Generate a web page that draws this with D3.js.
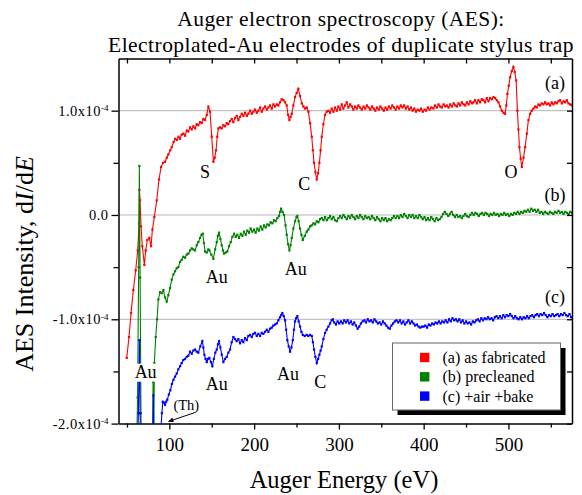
<!DOCTYPE html>
<html>
<head>
<meta charset="utf-8">
<script src="https://cdn.jsdelivr.net/npm/d3@7"></script>
<style>
  body { margin: 0; background: #fff; }
  svg { display: block; font-family: "Liberation Serif", "DejaVu Serif", serif; }
</style>
</head>
<body>
<svg id="chart"></svg>
<script>
// AES spectra, values in units of 1e-4 (dI/dE), energy in eV
const asFabricated = [
  [49.7,-1.37],[52.4,-1.17],[54.8,-0.94],[57.5,-0.72],[60.3,-0.53],[62.7,-0.34],[64.2,-0.08],[64.6,0.24],
  [65.4,0.14],[66.6,-0.11],[68.1,-0.30],[70.5,-0.48],[72.1,-0.34],[74.0,-0.24],[76.4,-0.22],[78.4,-0.30],
  [80.0,-0.14],[82.3,-0.02],[85.1,0.14],[87.8,0.34],[90.2,0.46],[92.5,0.50],[94.9,0.51],[97,0.55],
  [98.8,0.58],[101,0.62],[102.8,0.65],[105,0.70],[106.7,0.73],[109,0.72],[110.8,0.75],[112.6,0.73],
  [114.5,0.77],[116.5,0.78],[118.5,0.76],[120.5,0.81],[122.4,0.80],[124.5,0.84],[126.4,0.82],[128.3,0.85],
  [130.3,0.83],[132.2,0.87],[134.2,0.86],[136.2,0.89],[138.1,0.88],[140.1,0.92],[142.1,0.91],[144.1,0.96],
  [146.0,1.04],[148.0,0.99],[150.0,0.75],[151.9,0.51],[153.5,0.55],[155.1,0.62],[156.5,0.75],[157.8,0.83],
  [159.8,0.84],[161.7,0.83],[163.7,0.86],[165.7,0.85],[167.7,0.88],[169.6,0.87],[171.6,0.90],[173.6,0.92],
  [175.5,0.89],[177.5,0.93],[179.5,0.95],[181.4,0.91],[183.4,0.94],[185.4,0.97],[187.3,0.95],[189.3,0.98],
  [191.3,0.95],[193.2,0.97],[195.2,1.00],[197.2,0.97],[199.1,0.99],[201.1,1.01],[203.1,0.98],[205.0,1.00],
  [207.0,1.03],[209.0,0.99],[210.9,1.02],[212.9,1.04],[214.9,1.01],[216.8,1.03],[218.8,1.05],[220.8,1.02],
  [222.7,1.06],[224.7,1.04],[226.7,1.06],[228.6,1.05],[230.6,1.08],[232.5,1.11],[234.5,1.10],[236.5,1.08],
  [238.5,1.05],[240.0,0.96],[241.6,0.91],[243.0,0.94],[244.4,0.97],[246.3,1.05],[248.3,1.13],[250.2,1.17],
  [252.2,1.21],[254.2,1.14],[256.2,1.07],[258.1,1.04],[260.1,1.02],[262.1,1.03],[264.0,0.99],[266.0,0.88],
  [268.0,0.75],[269.3,0.62],[270.7,0.50],[272.3,0.41],[273.9,0.34],[275.5,0.40],[277.0,0.50],[278.4,0.62],
  [279.8,0.75],[281.7,0.87],[283.7,0.96],[285.6,0.99],[287.6,1.00],[289.6,0.98],[291.5,1.02],[293.5,0.99],
  [295.5,1.03],[297.5,1.00],[299.4,1.04],[301.4,1.01],[303.4,1.06],[305.3,1.02],[307.3,1.05],[309.3,1.08],
  [311.2,1.03],[313.2,1.06],[315.2,1.04],[317.1,1.01],[319.1,1.04],[321.1,1.02],[323,1.05],[325,1.03],
  [327,1.01],[329,1.04],[331,1.02],[333,1.05],[335,1.03],[337,1.01],[339,1.04],[341,1.02],
  [343,1.00],[345,1.03],[347,1.01],[349,1.04],[351,1.02],[353,1.00],[355,1.03],[357,1.01],
  [359,1.04],[361,1.02],[363,1.05],[365,1.03],[367,1.01],[369,1.04],[371,1.02],[373,1.05],
  [375,1.03],[377,1.05],[379,1.02],[381,1.04],[383,1.01],[385,1.03],[387,1.00],[389,1.02],
  [391,0.99],[393,1.01],[395,1.00],[397,1.02],[399,0.99],[401,1.01],[403,1.00],[405,1.03],
  [407,1.01],[409,1.03],[411.5,1.02],[413.5,1.05],[415.5,1.03],[417.5,1.06],[419.5,1.04],[421.5,1.03],
  [423.5,1.06],[425.5,1.04],[427.3,1.05],[429.3,1.03],[431.3,1.06],[433.3,1.04],[435.3,1.07],[437.3,1.05],
  [439.2,1.04],[441.1,1.07],[443.0,1.05],[445,1.08],[447,1.06],[449,1.05],[451,1.08],[453,1.06],
  [455,1.09],[457,1.07],[458.7,1.08],[460.7,1.10],[462.7,1.07],[464.6,1.10],[466.6,1.08],[468.5,1.11],
  [470.5,1.10],[472.5,1.08],[474.4,1.12],[476.4,1.09],[478.4,1.12],[480.4,1.11],[482.4,1.13],[484.3,1.12],
  [486.3,1.10],[488.3,1.08],[490.2,1.04],[492.2,1.00],[494.2,0.98],[496.1,0.97],[497.5,1.05],[498.8,1.16],
  [500.4,1.24],[502.0,1.32],[504.0,1.38],[505.9,1.42],[507.5,1.37],[509.1,1.29],[510.6,1.00],[511.8,0.82],
  [513.0,0.65],[514.4,0.54],[515.8,0.46],[517.8,0.55],[519.7,0.65],[521.7,0.78],[523.6,0.91],[525.6,0.97],
  [527.5,1.00],[529.5,1.02],[531.5,1.04],[533.4,1.03],[535.4,1.06],[537.4,1.05],[539.3,1.07],[541.3,1.06],
  [543.3,1.08],[545.2,1.06],[547.2,1.07],[549.2,1.05],[551.1,1.08],[553.1,1.06],[555.1,1.08],[557.1,1.07],
  [559.0,1.09],[561.0,1.10],[563.0,1.07],[564.9,1.09],[566.9,1.08],[568.9,1.10],[570.8,1.07],[572.8,1.06],
  [575,1.05]
];

const precleaned = [
  [61.0,-2.4],[62.5,-1.75],[63.8,-0.5],[64.6,0.47],[65.5,-0.6],[66.5,-1.9],[67.5,-2.4],[79.8,-2.4],
  [80.8,-1.6],[81.5,-2.4],[82.3,-1.42],[83.9,-1.17],[85.5,-1.00],[87.0,-0.81],[89.0,-0.74],[91.0,-0.75],
  [93.0,-0.72],[94.9,-0.79],[96.9,-0.83],[98.8,-0.77],[100.8,-0.70],[102.8,-0.62],[104.8,-0.57],[106.7,-0.54],
  [108.7,-0.51],[110.6,-0.50],[112.6,-0.45],[114.5,-0.43],[116.5,-0.40],[118.5,-0.41],[120.5,-0.38],[122.4,-0.37],
  [124.4,-0.34],[126.4,-0.32],[128.3,-0.33],[130.3,-0.34],[132.3,-0.29],[134.2,-0.26],[136.2,-0.22],[138.0,-0.19],
  [139.4,-0.18],[140.8,-0.27],[142.1,-0.35],[144.1,-0.36],[146.0,-0.33],[147.2,-0.34],[149.5,-0.38],[151.9,-0.42],
  [154.0,-0.33],[155.9,-0.26],[157.2,-0.20],[158.6,-0.17],[160.2,-0.23],[161.8,-0.29],[163.2,-0.34],[164.5,-0.37],
  [166.5,-0.36],[168.4,-0.35],[170.4,-0.30],[172.4,-0.26],[174.3,-0.21],[176.3,-0.18],[178.3,-0.21],[180.2,-0.19],
  [182.2,-0.22],[184.2,-0.18],[186.1,-0.20],[188.1,-0.16],[190.1,-0.19],[192.0,-0.15],[194.0,-0.17],[195.9,-0.13],
  [197.9,-0.16],[199.9,-0.14],[201.8,-0.17],[203.8,-0.13],[205.8,-0.15],[207.7,-0.11],[209.7,-0.14],[211.7,-0.10],
  [213.6,-0.12],[215.6,-0.09],[217.6,-0.10],[219.5,-0.07],[221.5,-0.08],[223.5,-0.05],[225.4,-0.06],[227.4,-0.03],
  [229.4,-0.01],[230.6,0.03],[231.8,0.06],[233.5,0.03],[235.3,0.00],[237.0,-0.10],[238.5,-0.19],[240.0,-0.28],
  [241.6,-0.34],[243.0,-0.29],[244.4,-0.22],[246.3,-0.13],[248.3,-0.06],[250.0,-0.02],[251.0,-0.01],[252.5,-0.06],
  [254.2,-0.13],[255.8,-0.19],[257.4,-0.24],[259.7,-0.20],[262.1,-0.16],[264.0,-0.14],[266.0,-0.11],[268.0,-0.10],
  [270.0,-0.08],[271.9,-0.09],[273.9,-0.06],[275.9,-0.07],[277.8,-0.04],[279.8,-0.03],[281.8,-0.05],[283.7,-0.02],
  [285.7,-0.05],[287.7,-0.03],[289.6,-0.01],[291.6,-0.04],[293.6,-0.02],[295.5,-0.05],[297.5,-0.06],[299.5,-0.03],
  [301.4,-0.01],[303.4,-0.03],[305.4,0.00],[307.3,-0.02],[309.3,-0.04],[311.3,-0.01],[313.2,-0.03],[315.2,0.00],
  [317.2,-0.02],[319.1,-0.04],[321.1,-0.01],[323,-0.03],[325,0.00],[327,-0.02],[329,-0.04],[331,-0.01],
  [333,-0.03],[335,-0.02],[337,-0.04],[339,-0.01],[341,-0.03],[343,-0.05],[345,-0.02],[347,-0.04],
  [349,-0.06],[351,-0.03],[353,-0.05],[355,-0.03],[357,-0.06],[359,-0.04],[361,-0.05],[363,-0.03],
  [365,-0.01],[367,-0.03],[369,-0.01],[371,-0.03],[373,0.00],[375,-0.02],[377,0.01],[379,-0.01],
  [381,-0.03],[383,0.00],[385,-0.02],[387,0.00],[389,-0.03],[391,-0.01],[393,-0.03],[395,0.00],
  [397,-0.02],[399,-0.04],[401,-0.02],[403,-0.05],[405,-0.03],[407,-0.05],[409,-0.02],[411,-0.04],
  [413,-0.06],[415,-0.03],[417,-0.05],[419,-0.04],[421,-0.02],[423,0.01],[425,0.03],[427,0.01],
  [429,-0.01],[431,0.01],[433,0.03],[435,0.00],[437,-0.02],[439,0.00],[441,-0.02],[443,-0.01],
  [445,-0.03],[447,-0.01],[449,0.01],[451,-0.01],[453,-0.02],[455,0.00],[457,0.02],[459,0.00],
  [461,0.02],[463,0.01],[465,-0.01],[467,0.01],[469,0.02],[471,0.00],[473,0.02],[475,0.01],
  [477,-0.01],[479,0.01],[481,0.00],[483,0.02],[485,0.00],[487,0.01],[489,-0.01],[491,0.01],
  [493,0.00],[495,0.02],[497,0.00],[499,0.01],[501,-0.01],[503,0.01],[505,0.00],[507,0.02],
  [509,0.01],[511,0.03],[513,0.01],[515,0.03],[517,0.02],[519,0.04],[521,0.03],[523,0.05],
  [525,0.03],[527,0.06],[529,0.04],[531,0.05],[533,0.03],[535,0.05],[537,0.02],[539,0.03],
  [541,0.01],[543,0.03],[545,0.02],[547,0.01],[549,0.03],[551,0.02],[553,0.01],[555,0.03],
  [557,0.02],[559,0.04],[561,0.02],[563,0.03],[565,0.01],[567,0.03],[569,0.02],[571,0.01],
  [573,0.03],[575,0.02]
];

const airBake = [
  [62.0,-2.4],[63.5,-1.9],[64.6,-1.2],[65.5,-1.9],[66.5,-2.4],[80.3,-2.4],[81.1,-1.73],[82.0,-2.4],
  [89.5,-2.4],[90.2,-2.03],[91.2,-1.90],[92.2,-1.79],[94.0,-1.80],[94.9,-1.82],[96.3,-1.79],[97.6,-1.77],
  [99.4,-1.72],[101.2,-1.68],[103.0,-1.62],[104.8,-1.58],[106.7,-1.55],[108.7,-1.52],[110.6,-1.48],[112.6,-1.45],
  [114.5,-1.42],[116.5,-1.39],[118.5,-1.38],[120.5,-1.36],[122.4,-1.35],[124.4,-1.31],[126.4,-1.33],[128.3,-1.30],
  [130.3,-1.29],[132.3,-1.31],[134.2,-1.32],[136.5,-1.26],[138.9,-1.21],[140.1,-1.27],[141.3,-1.34],[142.7,-1.38],
  [144.1,-1.41],[145.7,-1.38],[147.2,-1.37],[149.0,-1.41],[150.7,-1.45],[152.5,-1.38],[154.2,-1.32],[155.9,-1.29],
  [157.3,-1.24],[158.6,-1.21],[160.2,-1.27],[161.8,-1.34],[163.7,-1.41],[165.7,-1.38],[167.7,-1.36],[169.6,-1.32],
  [171.6,-1.29],[173.5,-1.22],[175.5,-1.17],[177.5,-1.19],[179.4,-1.21],[181.4,-1.19],[183.4,-1.23],[185.4,-1.20],
  [187.3,-1.22],[189.3,-1.18],[191.3,-1.20],[193.2,-1.16],[195.2,-1.15],[197.2,-1.17],[199.1,-1.14],[201.1,-1.13],
  [203.1,-1.16],[205.0,-1.14],[207.0,-1.16],[209.0,-1.13],[210.9,-1.14],[212.9,-1.12],[214.9,-1.10],[216.8,-1.12],
  [218.8,-1.09],[220.8,-1.08],[222.7,-1.06],[224.7,-1.05],[226.7,-1.04],[228.6,-1.01],[230.6,-0.98],[232.0,-0.96],
  [233.3,-0.94],[235.0,-0.97],[236.5,-1.01],[237.8,-1.10],[239.2,-1.20],[240.8,-1.26],[242.4,-1.31],[244.0,-1.27],
  [245.6,-1.20],[247.0,-1.10],[248.3,-1.02],[249.6,-0.99],[251.0,-0.97],[252.6,-1.02],[254.2,-1.07],[255.8,-1.12],
  [257.4,-1.15],[259.7,-1.16],[262.1,-1.15],[264.0,-1.16],[266.0,-1.15],[268.0,-1.16],[269.4,-1.22],[270.7,-1.29],
  [272.3,-1.36],[273.9,-1.42],[275.5,-1.38],[277.0,-1.34],[278.4,-1.30],[279.8,-1.26],[281.7,-1.19],[283.7,-1.13],
  [285.6,-1.10],[287.6,-1.07],[289.6,-1.04],[291.5,-1.01],[292.8,-1.00],[294.5,-1.03],[296.5,-1.05],[298.5,-1.02],
  [300.4,-1.04],[302.4,-1.02],[304.4,-1.04],[306.3,-1.01],[308.3,-1.03],[310.3,-1.01],[312.2,-1.04],[314.2,-1.02],
  [316.2,-1.05],[318.1,-1.03],[320.1,-1.06],[322.1,-1.09],[324.0,-1.07],[326,-1.04],[328,-1.02],[330,-1.01],
  [332,-1.03],[334,-1.00],[336,-1.02],[338,-1.01],[340,-1.03],[342,-1.00],[344,-1.02],[346,-1.04],
  [348,-1.03],[350,-1.05],[352,-1.02],[354,-1.04],[356,-1.06],[358,-1.08],[360,-1.09],[362,-1.06],
  [364,-1.04],[366,-1.02],[368,-1.01],[370,-1.03],[372,-1.01],[374,-1.04],[376,-1.02],[378,-1.05],
  [380,-1.03],[382,-1.01],[384,-1.04],[386,-1.02],[388,-1.04],[390,-1.06],[392,-1.05],[394,-1.07],
  [396,-1.08],[398,-1.07],[400,-1.07],[402,-1.06],[404,-1.08],[406,-1.05],[408,-1.06],[410,-1.04],
  [412,-1.05],[414,-1.03],[416,-1.04],[418,-1.02],[420,-1.04],[422,-1.02],[424,-1.03],[426,-1.01],
  [428,-1.03],[430,-1.00],[432,-1.02],[434,-0.99],[436,-1.01],[438,-1.00],[440,-1.02],[442,-1.00],
  [444,-1.03],[446,-1.01],[448,-1.04],[450,-1.02],[452,-1.04],[454,-1.03],[456,-1.05],[458,-1.02],
  [460,-1.03],[462,-1.01],[464,-1.00],[466,-1.02],[468,-0.99],[470,-1.01],[472,-0.99],[474,-1.00],
  [476,-0.98],[478,-1.00],[480,-0.99],[482,-1.01],[484,-0.98],[486,-0.97],[488,-0.99],[490,-0.97],
  [492,-0.99],[494,-0.96],[496,-0.98],[498,-0.96],[500,-0.97],[502,-0.95],[504,-0.97],[506,-0.99],
  [508,-0.97],[510,-0.99],[512,-1.00],[514,-0.98],[516,-1.00],[518,-0.98],[520,-0.99],[522,-0.97],
  [524,-0.99],[526,-0.97],[528,-0.96],[530,-0.98],[532,-0.96],[534,-0.95],[536,-0.97],[538,-0.95],
  [540,-0.96],[542,-0.94],[544,-0.96],[546,-0.98],[548,-0.96],[550,-0.97],[552,-0.95],[554,-0.97],
  [556,-0.96],[558,-0.95],[560,-0.97],[562,-0.95],[564,-0.96],[566,-0.94],[568,-0.96],[570,-0.97],
  [572,-0.95],[574,-0.98]
];

const seriesNames = ['(a) as fabricated', '(b) precleaned', '(c) +air +bake'];
const seriesColors = ['#ff0000', '#008000', '#0000ff'];

const xMajorTicks = [100, 200, 300, 400, 500];
const xMinorTicks = [50, 150, 250, 350, 450, 550];
const yMajorTicks = [-2, -1, 0, 1];
const yMinorTicks = [-1.5, -0.5, 0.5];
const gridValues = [-1, 0, 1];

// peak labels: [energy, value, text, white background]
const peakLabels = [
  [142, 0.35, 'S'], [259, 0.24, 'C'], [503, 0.35, 'O'],
  [555, 1.21, '(a)'], [555, 0.13, '(b)'], [555, -0.84, '(c)'],
  [156, -0.65, 'Au'], [249, -0.58, 'Au'],
  [72, -1.56, 'Au', true], [156, -1.68, 'Au'], [240, -1.58, 'Au'], [278, -1.66, 'C']
];

function drawChart() {
  const width = 582, height = 495;
  const left = 118.5, right = 572, top = 58.5, bottom = 423.6;

  const svg = d3.select('#chart')
    .attr('width', width)
    .attr('height', height);

  const x = d3.scaleLinear().domain([40, 575]).range([left, right]);
  const y = d3.scaleLinear().domain([-2, 1.5]).range([bottom, top]);

  const defs = svg.append('defs');
  defs.append('clipPath').attr('id', 'plotclip')
    .append('rect')
    .attr('x', left).attr('y', top)
    .attr('width', right - left).attr('height', bottom - top);

  defs.append('marker')
    .attr('id', 'arrowhead')
    .attr('viewBox', '0 0 10 10')
    .attr('refX', 10).attr('refY', 5)
    .attr('markerWidth', 8).attr('markerHeight', 5)
    .attr('markerUnits', 'userSpaceOnUse')
    .attr('orient', 'auto')
    .append('path')
    .attr('d', 'M0,0 L10,5 L0,10 Z')
    .attr('fill', '#000');

  // gridlines
  svg.append('g').selectAll('line')
    .data(gridValues).enter()
    .append('line')
    .attr('x1', left).attr('x2', right)
    .attr('y1', d => y(d)).attr('y2', d => y(d))
    .attr('stroke', '#b4b4b4')
    .attr('stroke-width', 1);

  // spectra
  const plot = svg.append('g').attr('clip-path', 'url(#plotclip)');
  const line = d3.line().x(d => x(d[0])).y(d => y(d[1]));
  [asFabricated, precleaned, airBake].forEach((data, i) => {
    plot.append('path')
      .datum(data)
      .attr('d', line)
      .attr('fill', 'none')
      .attr('stroke', seriesColors[i])
      .attr('stroke-width', 1.1);
    plot.append('g').selectAll('rect')
      .data(data).enter()
      .append('rect')
      .attr('x', d => x(d[0]) - 1.1)
      .attr('y', d => y(d[1]) - 1.1)
      .attr('width', 2.2).attr('height', 2.2)
      .attr('fill', seriesColors[i]);
  });

  // axes
  const axisBottom = svg.append('g').attr('transform', `translate(0,${bottom})`);
  axisBottom.call(d3.axisBottom(x).tickValues(xMajorTicks).tickSize(6).tickSizeOuter(0)
    .tickPadding(8).tickFormat(d3.format('d')));
  axisBottom.selectAll('.tick text')
    .attr('font-size', 19)
    .attr('font-family', '"Liberation Serif", serif')
    .attr('fill', '#000');
  const minorBottom = axisBottom.append('g')
    .call(d3.axisBottom(x).tickValues(xMinorTicks).tickSize(4).tickFormat(''));
  minorBottom.select('.domain').remove();

  const axisTop = svg.append('g').attr('transform', `translate(0,${top})`);
  axisTop.call(d3.axisBottom(x).tickValues(xMajorTicks.concat(xMinorTicks))
    .tickSize(5).tickSizeOuter(0).tickFormat(''));

  const axisLeft = svg.append('g').attr('transform', `translate(${left},0)`);
  axisLeft.call(d3.axisLeft(y).tickValues(yMajorTicks).tickSize(7).tickSizeOuter(0).tickPadding(3));
  // y tick labels: mantissa x 10^-4
  axisLeft.selectAll('.tick text')
    .attr('font-size', 14.5)
    .attr('letter-spacing', 0.5)
    .attr('font-family', '"Liberation Serif", serif')
    .attr('fill', '#000')
    .each(function (d) {
      const t = d3.select(this);
      if (d === 0) { t.text('0.0'); return; }
      t.text(d.toFixed(1) + 'x10');
      t.append('tspan').attr('dy', '-0.5em').attr('font-size', 9).attr('letter-spacing', 0).text('-4');
    });
  const minorLeft = axisLeft.append('g')
    .call(d3.axisLeft(y).tickValues(yMinorTicks).tickSize(5).tickFormat(''));
  minorLeft.select('.domain').remove();

  const axisRight = svg.append('g').attr('transform', `translate(${right},0)`);
  axisRight.call(d3.axisLeft(y).tickValues(yMajorTicks.concat(yMinorTicks))
    .tickSize(5).tickSizeOuter(0).tickFormat(''));

  svg.selectAll('.domain').attr('stroke', '#000').attr('stroke-width', 1.5);
  svg.selectAll('.tick line').attr('stroke', '#000').attr('stroke-width', 1.3);

  // titles
  const title = svg.append('text')
    .attr('text-anchor', 'middle')
    .attr('font-size', 21.5)
    .attr('letter-spacing', 0.45)
    .attr('fill', '#000');
  title.append('tspan').attr('x', 341).attr('y', 26).text('Auger electron spectroscopy (AES):');
  title.append('tspan').attr('x', 341).attr('y', 52).text('Electroplated-Au electrodes of duplicate stylus trap');

  svg.append('text')
    .attr('x', 344).attr('y', 488)
    .attr('text-anchor', 'middle')
    .attr('font-size', 24.5)
    .text('Auger Energy (eV)');

  const ytitle = svg.append('text')
    .attr('transform', 'translate(33,264) rotate(-90)')
    .attr('text-anchor', 'middle')
    .attr('font-size', 26);
  ytitle.append('tspan').text('AES Intensity, d');
  ytitle.append('tspan').attr('font-style', 'italic').text('I');
  ytitle.append('tspan').text('/d');
  ytitle.append('tspan').attr('font-style', 'italic').text('E');

  // peak labels
  const labels = svg.append('g').selectAll('g')
    .data(peakLabels).enter()
    .append('g');
  labels.filter(d => d[3])
    .append('rect')
    .attr('x', d => x(d[0]) - 12)
    .attr('y', d => y(d[1]) - 14)
    .attr('width', 24).attr('height', 18)
    .attr('fill', '#fff');
  labels.append('text')
    .attr('x', d => x(d[0]))
    .attr('y', d => y(d[1]))
    .attr('text-anchor', 'middle')
    .attr('font-size', 18)
    .text(d => d[2]);

  // (Th) with arrow
  svg.append('text')
    .attr('x', x(120)).attr('y', y(-1.87))
    .attr('text-anchor', 'middle')
    .attr('font-size', 14.5)
    .text('(Th)');
  svg.append('line')
    .attr('x1', x(130.2)).attr('y1', y(-1.894))
    .attr('x2', x(98.8)).attr('y2', y(-1.98))
    .attr('stroke', '#000').attr('stroke-width', 1)
    .attr('marker-end', 'url(#arrowhead)');

  // legend
  const lg = svg.append('g').attr('transform', 'translate(392.5,343)');
  lg.append('rect')
    .attr('x', 5).attr('y', 5).attr('width', 168).attr('height', 67)
    .attr('fill', '#000');
  lg.append('rect')
    .attr('width', 168).attr('height', 67)
    .attr('fill', '#fff')
    .attr('stroke', '#666').attr('stroke-width', 1);
  const items = lg.selectAll('g.item')
    .data(seriesNames).enter()
    .append('g')
    .classed('item', true)
    .attr('transform', (d, i) => `translate(0,${14.5 + i * 19.3})`);
  items.append('rect')
    .attr('x', 27.5).attr('y', -4.7)
    .attr('width', 9.4).attr('height', 9.4)
    .attr('fill', (d, i) => seriesColors[i]);
  items.append('text')
    .attr('x', 50).attr('y', 5.5)
    .attr('font-size', 16)
    .text(d => d);
}

drawChart();
</script>
</body>
</html>
